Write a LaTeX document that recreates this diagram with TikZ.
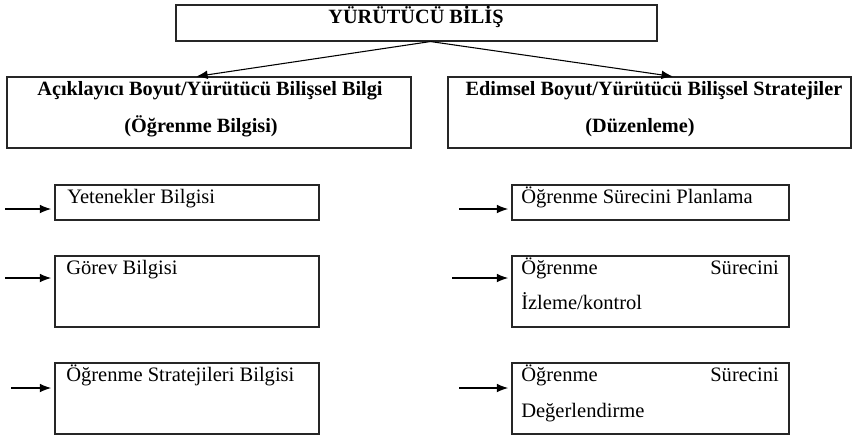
\documentclass[tikz,border=0pt]{standalone}
\usepackage{fontspec}
\setmainfont{Liberation Serif}
\usetikzlibrary{arrows.meta}
\begin{document}
\begin{tikzpicture}[x=0.75pt,y=-0.75pt,
  box/.style={draw=black!85, line width=0.8pt, inner sep=0pt, fill=none},
  txt/.style={inner sep=0pt, font=\fontsize{15.4}{18}\selectfont},
  btxt/.style={inner sep=0pt, font=\fontsize{15.2}{18}\selectfont\bfseries},
  arr/.style={draw=black, line width=0.8pt, -{Latex[length=8.5pt,width=6.5pt]}},
  harr/.style={arr, shorten >=2.5pt}]
\useasboundingbox (0,0) rectangle (856,437);
% boxes
\node[box, minimum width=360.75pt, minimum height=27pt] (top) at (416.5,23) {};
\node[box, minimum width=303pt, minimum height=53.25pt] (hl) at (209,112.5) {};
\node[box, minimum width=302.25pt, minimum height=53.25pt] (hr) at (649.5,112.5) {};
\node[box, minimum width=198pt, minimum height=26.25pt] (l1) at (187,202.5) {};
\node[box, minimum width=198pt, minimum height=53.25pt] (l2) at (187,291.5) {};
\node[box, minimum width=198pt, minimum height=53.25pt] (l3) at (187,398.5) {};
\node[box, minimum width=207.75pt, minimum height=26.25pt] (r1) at (650.5,202.5) {};
\node[box, minimum width=207.75pt, minimum height=53.25pt] (r2) at (650.5,291.5) {};
\node[box, minimum width=207.75pt, minimum height=53.25pt] (r3) at (650.5,398.5) {};
% texts
\node[btxt, anchor=base] (ttop) at (416,23) {YÜRÜTÜCÜ BİLİŞ};
\node[btxt, anchor=base] (thl1) at (210,95) {Açıklayıcı Boyut/Yürütücü Bilişsel Bilgi};
\node[btxt, anchor=base] (thl2) at (201,132) {(Öğrenme Bilgisi)};
\node[btxt, anchor=base] (thr1) at (654,95) {Edimsel Boyut/Yürütücü Bilişsel Stratejiler};
\node[btxt, anchor=base] (thr2) at (640,132) {(Düzenleme)};
\node[txt, anchor=base west] (tl1) at (67,203) {Yetenekler Bilgisi};
\node[txt, anchor=base west] (tl2) at (66,274) {Görev Bilgisi};
\node[txt, anchor=base west] (tl3) at (66,381) {Öğrenme Stratejileri Bilgisi};
\node[txt, anchor=base west] (tr1) at (521,203) {Öğrenme Sürecini Planlama};
\node[txt, anchor=base west] (tr2a) at (521,274) {Öğrenme};
\node[txt, anchor=base east] (tr2b) at (779,274) {Sürecini};
\node[txt, anchor=base west] (tr2c) at (521,309) {İzleme/kontrol};
\node[txt, anchor=base west] (tr3a) at (521,381) {Öğrenme};
\node[txt, anchor=base east] (tr3b) at (779,381) {Sürecini};
\node[txt, anchor=base west] (tr3c) at (521,417) {Değerlendirme};
% connectors from the top box
\draw[arr] ([xshift=10.5pt]top.south) -- ([xshift=-9.5pt]hl.north);
\draw[arr] ([xshift=10.5pt]top.south) -- ([xshift=17.5pt]hr.north);
% free-standing arrows
\coordinate (a1) at (5,209);
\coordinate (a2) at (5,278);
\coordinate (a3) at (11,388);
\coordinate (b1) at (459,209);
\coordinate (b2) at (452,278);
\coordinate (b3) at (459,388);
\draw[harr] (a1) -- (a1 -| l1.west);
\draw[harr] (a2) -- (a2 -| l2.west);
\draw[harr] (a3) -- (a3 -| l3.west);
\draw[harr] (b1) -- (b1 -| r1.west);
\draw[harr] (b2) -- (b2 -| r2.west);
\draw[harr] (b3) -- (b3 -| r3.west);
\end{tikzpicture}
\end{document}
